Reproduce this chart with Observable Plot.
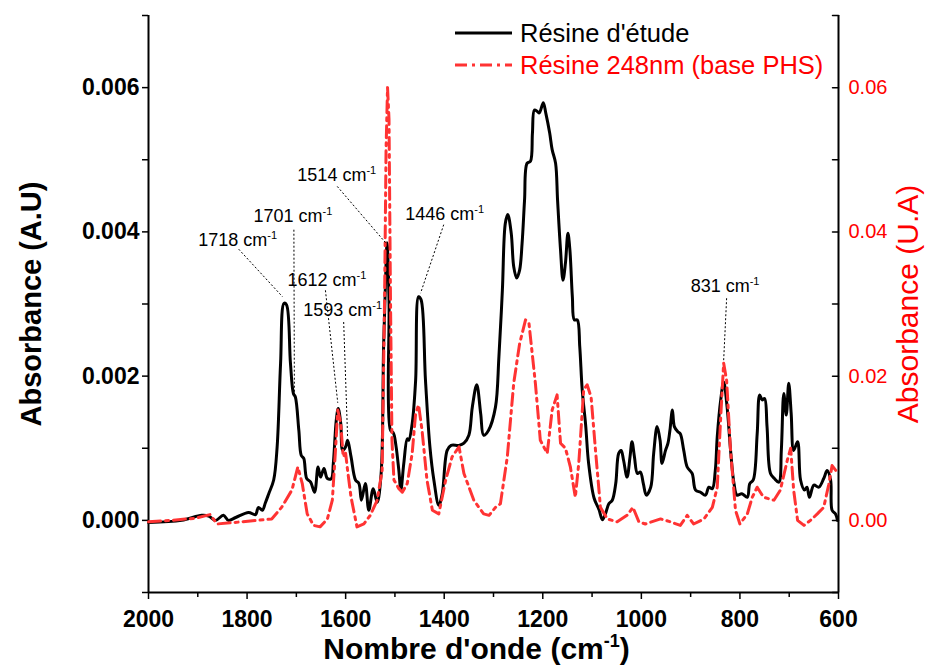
<!DOCTYPE html>
<html>
<head>
<meta charset="utf-8">
<script src="https://cdn.jsdelivr.net/npm/d3@7"></script>
<script src="https://cdn.jsdelivr.net/npm/@observablehq/plot@0.6"></script>
<style>
  body { margin: 0; background: #fff; }
  #wrap { position: relative; width: 925px; height: 666px; font-family: "Liberation Sans", Arial, Helvetica, sans-serif; }
  #legend { position: absolute; left: 455px; top: 17px; }
  .row { display: flex; align-items: center; height: 32px; font-size: 25.5px; white-space: nowrap; }
  .row svg { flex: none; }
</style>
</head>
<body>
<div id="wrap">
  <div id="chart"></div>
  <div id="legend">
    <div class="row"><svg width="65" height="10"><line x1="0" y1="5" x2="57" y2="5" stroke="#000" stroke-width="3"/></svg><span>Résine d'étude</span></div>
    <div class="row" style="color:#ff0000"><svg width="65" height="10"><line x1="0" y1="5" x2="57" y2="5" stroke="#ff3333" stroke-width="3" stroke-dasharray="12,5,3,5"/></svg><span>Résine 248nm (base PHS)</span></div>
  </div>
</div>
<script>
// ---- Data ----
const seriesNames = ["Résine d'étude", "Résine 248nm (base PHS)"];

// Black series: wavenumber (cm-1) and absorbance (left axis, A.U)
const blackWavenumber = [2000,1933,1892,1878,1864,1848,1838,1823,1797,1783,1777,1769,1763,1756,1746,1739,1732,1725,1720,1712,1706,1702,1695,1690,1685,1679,1671,1663,1656,1651,1644,1637,1629,1625,1619,1615,1610,1606,1600,1596,1589,1580,1573,1568,1560,1553,1544,1536,1528,1523,1519,1516,1512,1509,1503,1498,1492,1488,1482,1475,1472,1465,1458,1452,1447,1438,1429,1421,1411,1404,1394,1386,1370,1360,1350,1343,1334,1326,1320,1310,1296,1289,1282,1276,1271,1264,1259,1253,1247,1242,1237,1232,1225,1221,1217,1211,1207,1199,1194,1186,1181,1174,1170,1164,1159,1154,1149,1145,1140,1136,1130,1125,1120,1113,1107,1096,1086,1079,1073,1066,1059,1052,1046,1041,1036,1029,1023,1019,1014,1008,1002,996,990,981,975,968,962,958,951,946,942,937,933,926,921,914,907,897,890,880,870,863,856,850,846,839,833,826,819,812,806,796,785,780,773,765,760,755,750,745,738,730,721,716,711,706,701,696,691,683,677,669,664,659,650,640,630,623,616,613,606,602];
const blackAbsorbance = [-0.00003,0.00000,0.00007,0.00006,0.00000,0.00007,0.00000,0.00004,0.00011,0.00008,0.00018,0.00014,0.00024,0.00037,0.00056,0.00102,0.00218,0.00301,0.00299,0.00218,0.00176,0.00171,0.00125,0.00090,0.00086,0.00058,0.00053,0.00039,0.00074,0.00060,0.00072,0.00058,0.00058,0.00079,0.00139,0.00155,0.00135,0.00097,0.00102,0.00111,0.00088,0.00056,0.00051,0.00028,0.00051,0.00014,0.00044,0.00025,0.00065,0.00241,0.00333,0.00385,0.00306,0.00125,0.00121,0.00104,0.00069,0.00042,0.00079,0.00113,0.00111,0.00134,0.00194,0.00310,0.00306,0.00194,0.00102,0.00056,0.00021,0.00037,0.00097,0.00104,0.00104,0.00107,0.00118,0.00157,0.00188,0.00148,0.00118,0.00125,0.00157,0.00227,0.00319,0.00412,0.00424,0.00398,0.00352,0.00336,0.00347,0.00384,0.00444,0.00495,0.00498,0.00537,0.00569,0.00567,0.00565,0.00579,0.00565,0.00537,0.00514,0.00495,0.00444,0.00375,0.00333,0.00357,0.00398,0.00375,0.00310,0.00278,0.00278,0.00241,0.00181,0.00132,0.00079,0.00031,0.00015,0.00001,0.00009,0.00023,0.00028,0.00051,0.00093,0.00097,0.00083,0.00060,0.00088,0.00109,0.00088,0.00065,0.00067,0.00051,0.00035,0.00046,0.00093,0.00130,0.00111,0.00079,0.00097,0.00107,0.00125,0.00153,0.00130,0.00123,0.00120,0.00097,0.00074,0.00065,0.00042,0.00039,0.00035,0.00046,0.00044,0.00069,0.00116,0.00167,0.00192,0.00157,0.00097,0.00051,0.00035,0.00037,0.00032,0.00051,0.00056,0.00120,0.00174,0.00167,0.00169,0.00130,0.00065,0.00058,0.00053,0.00097,0.00176,0.00146,0.00190,0.00148,0.00097,0.00109,0.00056,0.00042,0.00046,0.00032,0.00049,0.00046,0.00058,0.00069,0.00056,0.00014,0.00009,0.00000];

// Red series: wavenumber (cm-1) and absorbance (right axis, U.A)
const redWavenumber = [2000,1953,1905,1875,1861,1811,1750,1730,1709,1697,1688,1678,1665,1652,1637,1627,1621,1616,1610,1605,1600,1596,1589,1577,1563,1550,1536,1526,1521,1518,1515,1512,1509,1506,1502,1492,1485,1475,1465,1458,1452,1445,1435,1424,1411,1397,1384,1370,1360,1340,1320,1309,1296,1286,1272,1259,1247,1235,1228,1215,1205,1191,1181,1171,1164,1154,1144,1134,1127,1117,1110,1102,1093,1083,1069,1049,1029,1017,1005,992,961,941,921,907,894,873,856,846,839,833,827,819,809,800,785,775,765,752,731,718,704,697,691,683,670,657,643,630,620,613,603];
const redAbsorbance = [-0.0002,0.0000,0.0003,0.0008,-0.0005,-0.0002,0.0002,0.0018,0.0042,0.0074,0.0051,0.0009,-0.0007,-0.0009,0.0002,0.0028,0.0093,0.0153,0.0135,0.0088,0.0093,0.0069,0.0032,-0.0009,-0.0005,0.0007,0.0028,0.0069,0.0306,0.0514,0.0600,0.0556,0.0306,0.0111,0.0056,0.0044,0.0039,0.0051,0.0093,0.0148,0.0160,0.0125,0.0056,0.0014,0.0009,0.0056,0.0088,0.0102,0.0065,0.0028,0.0009,0.0007,0.0018,0.0023,0.0088,0.0190,0.0245,0.0278,0.0273,0.0190,0.0111,0.0093,0.0153,0.0174,0.0107,0.0100,0.0074,0.0032,0.0079,0.0181,0.0188,0.0171,0.0097,0.0018,0.0002,-0.0002,0.0007,0.0018,-0.0002,-0.0005,0.0002,-0.0002,-0.0007,0.0007,-0.0005,0.0002,0.0018,0.0046,0.0143,0.0218,0.0194,0.0097,0.0014,-0.0005,0.0009,0.0032,0.0046,0.0032,0.0028,0.0042,0.0083,0.0100,0.0042,0.0000,-0.0007,0.0000,0.0009,0.0018,0.0049,0.0076,0.0067];

// Ticks
const xTickLabels = [2000, 1800, 1600, 1400, 1200, 1000, 800, 600];
const xMinorTicks = [1900, 1700, 1500, 1300, 1100, 900, 700];
const yLeftTickLabels = [0, 0.002, 0.004, 0.006];
const yLeftMinorTicks = [-0.001, 0.001, 0.003, 0.005, 0.007];
const yRightTickLabels = [0, 0.02, 0.04, 0.06];
const yRightAllTicks = [-0.01, 0, 0.01, 0.02, 0.03, 0.04, 0.05, 0.06, 0.07];

// Peak annotations: label, text anchor position, leader line from/to (data units)
const annLabel = ["1718", "1701", "1514", "1446", "1612", "1593", "831"];
const annTextX = [1899, 1787, 1698, 1479, 1718, 1686, 900];
const annTextY = [0.00389, 0.00421, 0.00478, 0.00424, 0.00333, 0.00292, 0.00324];
const annLineX1 = [1817, 1705, 1617, 1401, 1641, 1604, 827];
const annLineY1 = [0.00376, 0.00403, 0.00463, 0.00410, 0.00319, 0.00275, 0.00308];
const annLineX2 = [1728, 1704, 1519, 1448, 1616, 1596, 833];
const annLineY2 = [0.00310, 0.00174, 0.00385, 0.00315, 0.00163, 0.00115, 0.00222];

// ---- Build tables ----
const black = blackWavenumber.map((v, i) => ({v, a: blackAbsorbance[i]}));
const red = redWavenumber.map((v, i) => ({v, a: redAbsorbance[i]}));
const ann = annLabel.map((label, i) => ({
  label, tx: annTextX[i], ty: annTextY[i],
  x1: annLineX1[i], y1: annLineY1[i], x2: annLineX2[i], y2: annLineY2[i]
}));
const RIGHT_FACTOR = 10; // right axis = left axis × 10

const tickShape = {draw(context, l) { context.moveTo(0, 0); context.lineTo(0, -l); }};
const FONT = "'Liberation Sans', Arial, Helvetica, sans-serif";

const chart = Plot.plot({
  width: 925,
  height: 666,
  marginLeft: 148,
  marginRight: 87,
  marginTop: 15,
  marginBottom: 74,
  style: {fontFamily: FONT, background: "#fff", color: "#000", overflow: "visible"},
  x: {domain: [2000, 600]},
  y: {domain: [-0.001, 0.007]},
  marks: [
    // axes frame lines
    Plot.ruleX([2000, 600], {stroke: "#000", strokeWidth: 2}),
    Plot.ruleY([-0.001], {stroke: "#000", strokeWidth: 2}),
    // x axis
    Plot.axisX({ticks: xTickLabels, tickSize: 7, tickPadding: 11, tickFormat: d => String(d), fontWeight: "bold", fontSize: 23, label: null, strokeWidth: 1.5}),
    Plot.axisX({ticks: xMinorTicks, tickSize: 5, tickFormat: () => "", label: null, strokeWidth: 1.5}),
    // left y axis
    Plot.axisY({ticks: yLeftTickLabels, tickSize: 6, tickPadding: 3, tickFormat: d => d.toFixed(3), fontWeight: "bold", fontSize: 23, label: null, strokeWidth: 1.5}),
    Plot.axisY({ticks: yLeftMinorTicks, tickSize: 6, tickFormat: () => "", label: null, strokeWidth: 1.5}),
    // right y axis (labels red, ticks inward)
    Plot.axisY({anchor: "right", ticks: yRightTickLabels.map(d => d / RIGHT_FACTOR), tickSize: 0, tickPadding: 10,
      tickFormat: d => (d * RIGHT_FACTOR).toFixed(2), fill: "#ff0000", fontSize: 20, label: null}),
    Plot.vector(yRightAllTicks.map(d => d / RIGHT_FACTOR), {y: d => d, frameAnchor: "right", length: 6, rotate: -90,
      anchor: "start", shape: tickShape, stroke: "#000", strokeWidth: 1.5}),
    // series
    Plot.line(black, {x: "v", y: "a", stroke: "#000", strokeWidth: 3, strokeLinejoin: "round", curve: "catmull-rom"}),
    Plot.line(red, {x: "v", y: d => d.a / RIGHT_FACTOR, stroke: "#ff3333", strokeWidth: 3, strokeDasharray: "12,5,3,5"}),
    // annotations
    Plot.link(ann, {x1: "x1", y1: "y1", x2: "x2", y2: "y2", stroke: "#000", strokeWidth: 1, strokeDasharray: "2,2"}),
    Plot.text(ann, {x: "tx", y: "ty", text: d => d.label + " cm", textAnchor: "start", fontSize: 18, fill: "#000"}),
    // axis titles
    Plot.text(["Absorbance (A.U)"], {frameAnchor: "left", textAnchor: "middle", lineAnchor: "middle", dx: -117, rotate: -90, fontWeight: "bold", fontSize: 29, fill: "#000"}),
    Plot.text(["Absorbance (U.A)"], {frameAnchor: "right", textAnchor: "middle", lineAnchor: "middle", dx: 70, rotate: -90, fontSize: 30, fill: "#ff0000"}),
    Plot.text(["Nombre d'onde (cm"], {frameAnchor: "bottom", textAnchor: "middle", lineAnchor: "middle", dy: 57, dx: -17, fontWeight: "bold", fontSize: 30, fill: "#000"})
  ]
});

// superscripts "-1"
const NS = "http://www.w3.org/2000/svg";
chart.querySelectorAll("text").forEach(t => {
  const s = t.textContent;
  if (/^\d+ cm$/.test(s)) {
    const sup = document.createElementNS(NS, "tspan");
    sup.setAttribute("font-size", "11");
    sup.setAttribute("dy", "-7");
    sup.textContent = "-1";
    t.appendChild(sup);
  } else if (s === "Nombre d'onde (cm") {
    const sup = document.createElementNS(NS, "tspan");
    sup.setAttribute("font-size", "18");
    sup.setAttribute("dy", "-12");
    sup.textContent = "-1";
    t.appendChild(sup);
    const tail = document.createElementNS(NS, "tspan");
    tail.setAttribute("dy", "12");
    tail.textContent = ")";
    t.appendChild(tail);
  }
});
document.getElementById("chart").appendChild(chart);
</script>
</body>
</html>
